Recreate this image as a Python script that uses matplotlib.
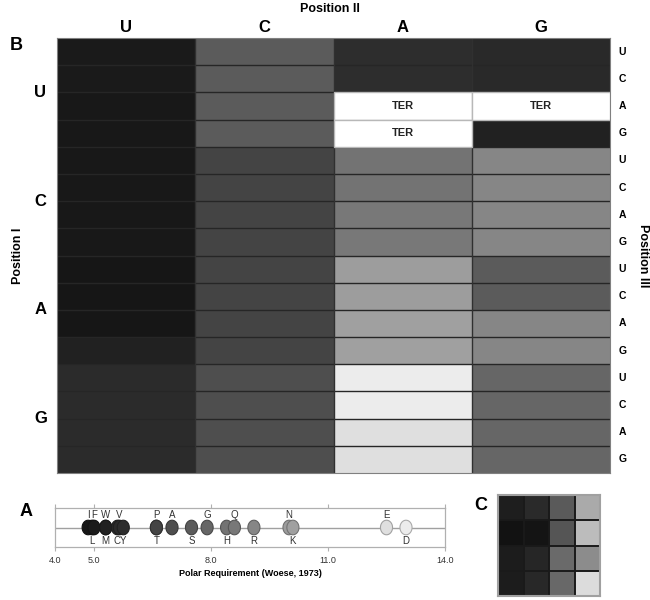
import numpy as np
import matplotlib
matplotlib.use("Agg")
import matplotlib.pyplot as plt
from matplotlib.colors import Normalize
from matplotlib.path import Path

plt.rcParams['font.family'] = ['Liberation Sans', 'DejaVu Sans']

# ---------------- data ----------------
bases = ['U', 'C', 'A', 'G']
# standard genetic code, order: pos I (UCAG) x pos II (UCAG) x pos III (UCAG); '*' = stop
code = "FFLLSSSSYY**CC*WLLLLPPPPHHQQRRRRIIIMTTTTNNKKSSRRVVVVAAAADDEEGGGG"
# polar requirement per amino acid (Woese, 1973)
aa_names = ['L', 'I', 'F', 'W', 'M', 'C', 'V', 'Y', 'P', 'T', 'A', 'S', 'G',
            'H', 'Q', 'R', 'N', 'K', 'E', 'D']
aa_values = [4.95, 4.85, 5.0, 5.3, 5.3, 5.6, 5.65, 5.75, 6.6, 6.6, 7.0, 7.5, 7.9,
             8.4, 8.6, 9.1, 10.0, 10.1, 12.5, 13.0]
aa_above = ['I', 'F', 'W', 'V', 'P', 'A', 'G', 'Q', 'N', 'E']
polar = dict(zip(aa_names, aa_values))

# panel C: 4x4 block means (polar requirement units)
panel_c = [[5.15, 5.61, 7.44, 10.49],
           [4.73, 4.77, 7.25, 11.17],
           [5.08, 5.46, 8.05, 9.34],
           [5.08, 5.53, 7.97, 12.39]]

axis_ticks = [4.0, 5.0, 8.0, 11.0, 14.0]
axis_ticklabels = ['4.0', '5.0', '8.0', '11.0', '14.0']

# ---------------- figure ----------------
W, H = 650, 600
fig = plt.figure(figsize=(6.5, 6.0), dpi=100)

def fx(x):
    return x / W

def fy(y):
    return 1 - y / H

cmap = plt.get_cmap('gray').copy()
cmap.set_bad('white')
norm = Normalize(vmin=4.01, vmax=4.01 + 255 / 26.25)

# ---------------- panel B: codon table ----------------
axB = fig.add_axes([fx(57), fy(473), fx(610) - fx(57), fy(38) - fy(473)])
M = np.full((16, 4), np.nan)
aa_grid = [['' for _ in range(4)] for _ in range(16)]
for i1 in range(4):
    for i3 in range(4):
        r = i1 * 4 + i3
        for i2 in range(4):
            aa = code[i1 * 16 + i2 * 4 + i3]
            aa_grid[r][i2] = aa
            if aa != '*':
                M[r, i2] = polar[aa]
axB.pcolormesh(np.arange(5), np.arange(17), np.ma.masked_invalid(M), cmap=cmap,
               norm=norm, antialiased=False, linewidth=0)
for r in range(1, 16):
    axB.axhline(r, color='#262626', lw=1.0, zorder=2)
for c in range(1, 4):
    axB.axvline(c, color='#303030', lw=1.0, zorder=2)
for r in range(16):
    for c in range(4):
        if aa_grid[r][c] == '*':
            axB.add_patch(plt.Rectangle((c, r), 1, 1, facecolor='white',
                                        edgecolor='#b8b8b8', lw=1.0, zorder=3))
            axB.text(c + 0.5, r + 0.5, 'TER', ha='center', va='center',
                     fontsize=8, fontweight='bold', color='#222222', zorder=4)
axB.set_xlim(0, 4)
axB.set_ylim(16, 0)
axB.set_xticks([])
axB.set_yticks([])
for s in axB.spines.values():
    s.set_color('#808080')
    s.set_linewidth(0.8)

for i, b in enumerate(bases):
    axB.text(i + 0.5, -0.38, b, ha='center', va='center', fontsize=12,
             fontweight='bold', clip_on=False)
    axB.text(-0.12, i * 4 + 2, b, ha='center', va='center', fontsize=12,
             fontweight='bold', clip_on=False)
for r in range(16):
    axB.text(4.09, r + 0.5, bases[r % 4], ha='center', va='center', fontsize=7.5,
             fontweight='bold', clip_on=False)
axB.text(-0.28, 8, 'Position I', rotation=90, ha='center', va='center',
         fontsize=9, fontweight='bold', clip_on=False)
axB.text(4.24, 8, 'Position III', rotation=270, ha='center', va='center',
         fontsize=9, fontweight='bold', clip_on=False)
fig.text(fx(330), fy(9), 'Position II', ha='center', va='center', fontsize=9,
         fontweight='bold')
fig.text(fx(16), fy(45), 'B', ha='center', va='center', fontsize=13,
         fontweight='bold')

# ---------------- panel A: polar requirement axis ----------------
axA = fig.add_axes([fx(55), fy(547), fx(445) - fx(55), fy(508) - fy(547)])
axA.set_xlim(4, 14)
axA.set_ylim(-1, 1)
axA.axhline(0, color='#a0a0a0', lw=1.0, zorder=1)
t = np.linspace(0, 2 * np.pi, 60)
ell = Path(np.column_stack([0.83 * np.cos(t), np.sin(t)]), closed=True)
face = [cmap(norm(v)) for v in aa_values]
edge = [tuple(np.array(cmap(norm(v))[:3]) * 0.72) for v in aa_values]
axA.scatter(aa_values, np.zeros(len(aa_values)), s=110, marker=ell, c=face,
            edgecolors=edge, linewidths=0.8, zorder=3)
for n, v in zip(aa_names, aa_values):
    if n in aa_above:
        axA.text(v, 0.62, n, ha='center', va='center', fontsize=7, color='#333333')
    else:
        axA.text(v, -0.68, n, ha='center', va='center', fontsize=7, color='#333333')
axA.set_xticks(axis_ticks)
axA.set_xticklabels(axis_ticklabels, fontsize=6.5, color='#333333')
axA.set_yticks([])
axA.tick_params(axis='x', direction='out', length=3, width=0.8, color='#b0b0b0',
                top=True, pad=3.5)
for s in axA.spines.values():
    s.set_color('#b0b0b0')
    s.set_linewidth(0.9)
axA.set_xlabel('Polar Requirement (Woese, 1973)', fontsize=6.5, fontweight='bold',
               labelpad=3)
fig.text(fx(26), fy(511), 'A', ha='center', va='center', fontsize=13,
         fontweight='bold')

# ---------------- panel C ----------------
axC = fig.add_axes([fx(498), fy(596), fx(600) - fx(498), fy(495) - fy(596)])
axC.pcolormesh(np.arange(5), np.arange(5), np.array(panel_c), cmap=cmap, norm=norm,
               antialiased=False, linewidth=0)
for k in range(1, 4):
    axC.axhline(k, color='#1a1a1a', lw=1.4, zorder=2)
    axC.axvline(k, color='#1a1a1a', lw=1.4, zorder=2)
axC.set_xlim(0, 4)
axC.set_ylim(4, 0)
axC.set_xticks([])
axC.set_yticks([])
for s in axC.spines.values():
    s.set_color('#a0a0a0')
    s.set_linewidth(1.5)
fig.text(fx(481), fy(505), 'C', ha='center', va='center', fontsize=13,
         fontweight='bold')

fig.savefig('out.png', dpi=100)
